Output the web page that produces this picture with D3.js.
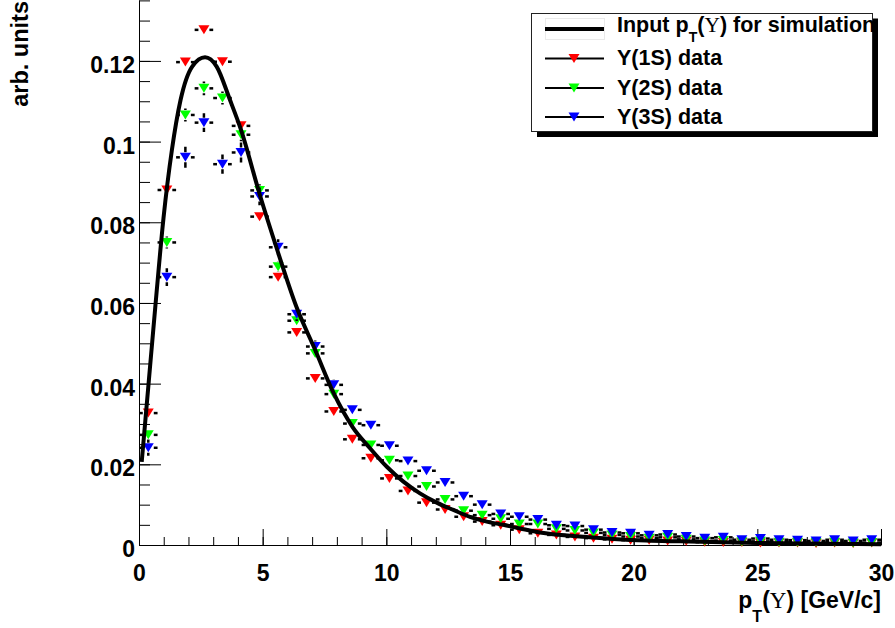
<!DOCTYPE html>
<html>
<head>
<meta charset="utf-8">
<script src="https://cdn.jsdelivr.net/npm/d3@7"></script>
<style>
body { margin: 0; background: #fff; }
svg text { font-family: "Liberation Sans", Arial, Helvetica, sans-serif; font-weight: bold; }
svg .greek { font-family: "Liberation Serif", "Times New Roman", serif; font-weight: normal; }
</style>
</head>
<body>
<script>
// pT bin centres [GeV/c], bins are 0.75 wide
var ptBins = [0.375, 1.125, 1.875, 2.625, 3.375, 4.125, 4.875, 5.625, 6.375, 7.125,
  7.875, 8.625, 9.375, 10.125, 10.875, 11.625, 12.375, 13.125, 13.875, 14.625,
  15.375, 16.125, 16.875, 17.625, 18.375, 19.125, 19.875, 20.625, 21.375, 22.125,
  22.875, 23.625, 24.375, 25.125, 25.875, 26.625, 27.375, 28.125, 28.875, 29.625];
var binHalf = 0.375;

// Y(1S) data
var y1S = [0.0327, 0.0880, 0.1197, 0.1277, 0.1198, 0.1039, 0.0814, 0.0664, 0.0527, 0.0413,
  0.0331, 0.0262, 0.0215, 0.0165, 0.0134, 0.0105, 0.0088, 0.0070, 0.0058, 0.0049,
  0.0038, 0.0029, 0.0025, 0.0020, 0.0017, 0.0014, 0.0012, 0.0012, 0.0010, 0.0009,
  0.0007, 0.0006, 0.0006, 0.0005, 0.0005, 0.0005, 0.0004, 0.0005, 0.0004, 0.0005];
var y1SErr = [0.0009, 0.0011, 0.0011, 0.0011, 0.0011, 0.0010, 0.0009, 0.0008, 0.0007, 0.0007,
  0.0006, 0.0005, 0.0005, 0.0004, 0.0004, 0.0004, 0.0003, 0.0003, 0.0003, 0.0003,
  0.0002, 0.0002, 0.0002, 0.0002, 0.0002, 0.0002, 0.0002, 0.0002, 0.0002, 0.0002,
  0.0002, 0.0002, 0.0002, 0.0002, 0.0002, 0.0002, 0.0002, 0.0002, 0.0002, 0.0002];

// Y(2S) data
var y2S = [0.0273, 0.0750, 0.1066, 0.1132, 0.1108, 0.1017, 0.0879, 0.0690, 0.0556, 0.0475,
  0.0374, 0.0301, 0.0248, 0.0210, 0.0171, 0.0145, 0.0113, 0.0085, 0.0074, 0.0065,
  0.0052, 0.0052, 0.0040, 0.0036, 0.0030, 0.0025, 0.0021, 0.0017, 0.0019, 0.0014,
  0.0010, 0.0011, 0.0008, 0.0009, 0.0007, 0.0007, 0.0006, 0.0007, 0.0005, 0.0006];
var y2SErr = [0.0013, 0.0015, 0.0016, 0.0017, 0.0016, 0.0016, 0.0015, 0.0013, 0.0012, 0.0011,
  0.0010, 0.0009, 0.0008, 0.0008, 0.0007, 0.0007, 0.0006, 0.0005, 0.0005, 0.0005,
  0.0004, 0.0004, 0.0004, 0.0003, 0.0003, 0.0003, 0.0003, 0.0003, 0.0003, 0.0003,
  0.0002, 0.0002, 0.0002, 0.0002, 0.0002, 0.0002, 0.0002, 0.0002, 0.0002, 0.0002];

// Y(3S) data
var y3S = [0.0241, 0.0664, 0.0961, 0.1047, 0.0944, 0.0973, 0.0864, 0.0738, 0.0572, 0.0492,
  0.0397, 0.0335, 0.0297, 0.0246, 0.0208, 0.0184, 0.0155, 0.0121, 0.0100, 0.0077,
  0.0070, 0.0063, 0.0049, 0.0047, 0.0038, 0.0031, 0.0029, 0.0024, 0.0026, 0.0021,
  0.0017, 0.0019, 0.0013, 0.0016, 0.0013, 0.0012, 0.0010, 0.0013, 0.0010, 0.0013];
var y3SErr = [0.0020, 0.0022, 0.0026, 0.0023, 0.0024, 0.0025, 0.0022, 0.0020, 0.0017, 0.0015,
  0.0013, 0.0012, 0.0011, 0.0010, 0.0009, 0.0008, 0.0008, 0.0007, 0.0006, 0.0006,
  0.0005, 0.0005, 0.0005, 0.0004, 0.0004, 0.0004, 0.0003, 0.0003, 0.0003, 0.0003,
  0.0003, 0.0003, 0.0003, 0.0003, 0.0003, 0.0003, 0.0003, 0.0003, 0.0003, 0.0003];

// input pT shape used for simulation
var inputPt = [0.11, 0.40, 0.67, 0.99, 1.33, 1.68, 2.15, 2.67, 3.14, 3.68, 4.125, 4.875,
  5.57, 6.38, 7.12, 7.88, 8.63, 9.34, 10.02, 10.69, 11.36, 12.04, 12.71, 13.38, 14.06,
  14.73, 15.41, 16.21, 17.83, 19.18, 20.5, 21.9, 25, 30];
var inputVal = [0.0206, 0.0409, 0.0598, 0.0810, 0.0979, 0.1103, 0.1186, 0.1209, 0.1186, 0.1103, 0.1029, 0.0870,
  0.0735, 0.0588, 0.0484, 0.0375, 0.0293, 0.0240, 0.0194, 0.0157, 0.0128, 0.0105, 0.0087, 0.0070, 0.0058,
  0.0050, 0.0041, 0.0031, 0.0021, 0.0015, 0.0011, 0.0009, 0.0005, 0.0002];

var seriesNames = ["\u03A5(1S) data", "\u03A5(2S) data", "\u03A5(3S) data"];
var seriesColors = ["#ff0000", "#00ff00", "#0000ff"];

var xMajor = [0, 5, 10, 15, 20, 25, 30];
var yMajor = [0, 0.02, 0.04, 0.06, 0.08, 0.1, 0.12];

// define svg
var svg = d3.select("body")
  .append("svg")
  .attr("width", 895)
  .attr("height", 628);

svg.append("rect").attr("width", 895).attr("height", 628).attr("fill", "#fff");

// define scales
var x = d3.scaleLinear().domain([0, 30]).range([139, 881]);
var y = d3.scaleLinear().domain([0, 0.1351]).range([545, 0]);

// minor ticks
svg.append("g")
  .attr("transform", "translate(0,545)")
  .call(d3.axisBottom(x).tickValues(d3.range(0, 31, 1)).tickSize(-8).tickFormat(""))
  .call(function(g) { g.select(".domain").remove(); });
svg.append("g")
  .attr("transform", "translate(139,0)")
  .call(d3.axisLeft(y).tickValues(d3.range(0, 0.1351, 0.005)).tickSize(-11).tickFormat(""))
  .call(function(g) { g.select(".domain").remove(); });

// major ticks + labels
var xAxis = svg.append("g")
  .attr("transform", "translate(0,545)")
  .call(d3.axisBottom(x).tickValues(xMajor).tickSizeInner(-16).tickSizeOuter(0).tickPadding(20));
var yAxis = svg.append("g")
  .attr("transform", "translate(139,0)")
  .call(d3.axisLeft(y).tickValues(yMajor).tickSizeInner(-22).tickSizeOuter(0).tickPadding(4)
    .tickFormat(function(d) { return d === 0 ? "0" : String(+d.toFixed(2)); }));

svg.selectAll(".tick line, .domain").attr("stroke", "#000").attr("stroke-width", 1);
xAxis.selectAll("text").attr("font-size", 23).attr("fill", "#000");
yAxis.selectAll("text").attr("font-size", 23).attr("fill", "#000").attr("dy", "0.5em");
svg.selectAll("g").attr("font-family", null).attr("font-size", null);

// axis titles
svg.append("text")
  .attr("transform", "translate(28,1) rotate(-90)")
  .attr("text-anchor", "end")
  .attr("font-size", 23.5)
  .text("arb. units");

var xt = svg.append("text")
  .attr("x", 881).attr("y", 608)
  .attr("text-anchor", "end")
  .attr("font-size", 23);
xt.append("tspan").text("p");
xt.append("tspan").attr("font-size", 16).attr("dy", 14).text("T");
xt.append("tspan").attr("dy", -14).text("(");
xt.append("tspan").attr("class", "greek").text("\u03A5");
xt.append("tspan").text(") [GeV/c]");

// marker helper: downward triangle
function tri(cx, cy) {
  return "M" + (cx - 5.5) + "," + (cy - 4.5) + "L" + (cx + 5.5) + "," + (cy - 4.5) + "L" + cx + "," + (cy + 4.5) + "Z";
}

// draw histograms
var allData = [[y1S, y1SErr], [y2S, y2SErr], [y3S, y3SErr]];
allData.forEach(function(s, k) {
  var pts = ptBins.map(function(p, i) { return {p: p, v: s[0][i], e: s[1][i]}; });
  var g = svg.append("g");
  var bars = g.selectAll("g").data(pts).enter().append("g")
    .attr("stroke", "#000").attr("stroke-width", 2.5);
  bars.append("line")
    .attr("x1", function(d) { return x(d.p - binHalf); })
    .attr("x2", function(d) { return x(d.p) - 5.5; })
    .attr("y1", function(d) { return y(d.v); })
    .attr("y2", function(d) { return y(d.v); });
  bars.append("line")
    .attr("x1", function(d) { return x(d.p) + 5.5; })
    .attr("x2", function(d) { return x(d.p + binHalf); })
    .attr("y1", function(d) { return y(d.v); })
    .attr("y2", function(d) { return y(d.v); });
  bars.filter(function(d) { return y(d.v - d.e) - y(d.v) > 5; })
    .append("path")
    .attr("d", function(d) {
      return "M" + x(d.p) + "," + y(d.v + d.e) + "V" + (y(d.v) - 5) +
        "M" + x(d.p) + "," + (y(d.v) + 5) + "V" + y(d.v - d.e);
    });
  g.selectAll("path.m").data(pts).enter().append("path")
    .attr("class", "m")
    .attr("d", function(d) { return tri(x(d.p), y(d.v)); })
    .attr("fill", seriesColors[k]);
});

// input curve
var line = d3.line()
  .x(function(d) { return x(d[0]); })
  .y(function(d) { return y(d[1]); })
  .curve(d3.curveMonotoneX);
svg.append("path")
  .datum(inputPt.map(function(p, i) { return [p, inputVal[i]]; }))
  .attr("fill", "none")
  .attr("stroke", "#000")
  .attr("stroke-width", 4)
  .attr("d", line);

// legend
var leg = svg.append("g");
leg.append("rect").attr("x", 537).attr("y", 18.5).attr("width", 341).attr("height", 118.5).attr("fill", "#000");
leg.append("rect").attr("x", 531.5).attr("y", 13.5).attr("width", 341).attr("height", 118)
  .attr("fill", "#fff").attr("stroke", "#222").attr("stroke-width", 1);
leg.append("rect").attr("x", 545.5).attr("y", 18.5).attr("width", 59).attr("height", 21)
  .attr("fill", "none").attr("stroke", "#eaeaea");
leg.append("line").attr("x1", 545).attr("x2", 604).attr("y1", 29).attr("y2", 29)
  .attr("stroke", "#000").attr("stroke-width", 4);
var lt = leg.append("text").attr("x", 617).attr("y", 32).attr("font-size", 21.5);
lt.append("tspan").text("Input p");
lt.append("tspan").attr("font-size", 14).attr("dy", 9.5).text("T");
lt.append("tspan").attr("dy", -9.5).text("(");
lt.append("tspan").attr("class", "greek").text("\u03A5");
lt.append("tspan").text(") for simulation");

var rowY = [58.5, 88, 117];
seriesNames.forEach(function(name, k) {
  leg.append("line").attr("x1", 545).attr("x2", 604).attr("y1", rowY[k]).attr("y2", rowY[k])
    .attr("stroke", "#000").attr("stroke-width", 2);
  leg.append("path").attr("d", tri(574, rowY[k])).attr("fill", seriesColors[k]);
  leg.append("text").attr("x", 617).attr("y", rowY[k] + 6.5).attr("font-size", 21.5).text(name);
});
</script>
</body>
</html>
